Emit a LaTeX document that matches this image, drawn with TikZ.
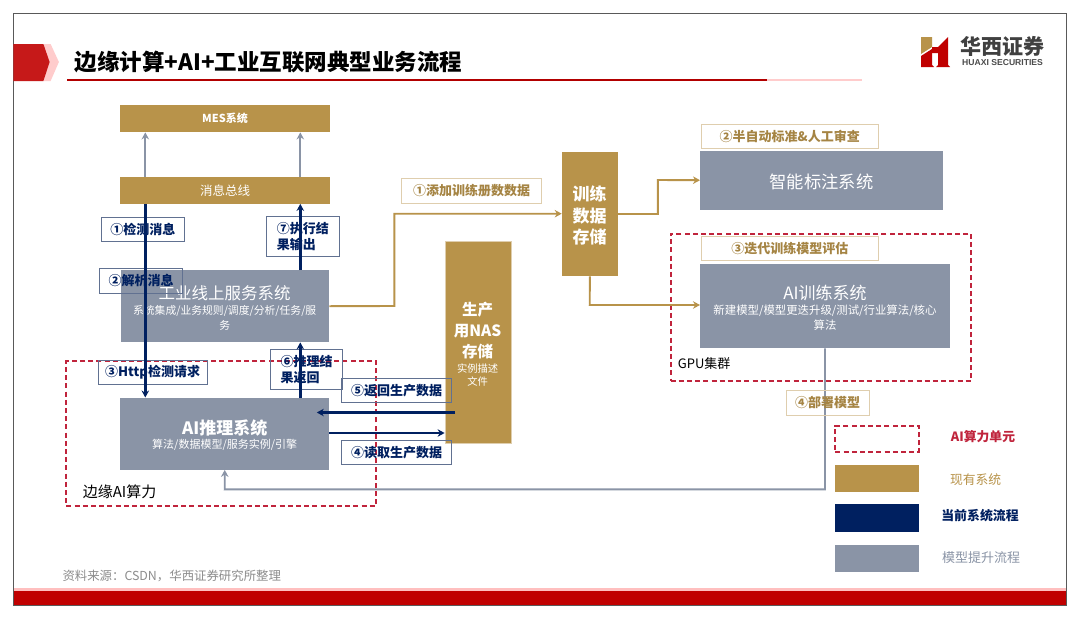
\documentclass[tikz,border=0pt]{standalone}
\usepackage{fontspec}
\setmainfont{Noto Sans CJK SC}
\newfontfamily\latinfont{Liberation Sans}
\usetikzlibrary{arrows.meta,positioning}
\definecolor{gold}{HTML}{B8934A}
\definecolor{slate}{HTML}{8A94A6}
\definecolor{navy}{HTML}{002060}
\definecolor{hxred}{HTML}{C00000}
\definecolor{dashred}{HTML}{C0243C}
\newcommand{\fs}[1]{\fontsize{#1}{#1}\selectfont}
\tikzset{
  x=1pt,y=-1pt,
  sz/.style 2 args={minimum width=#1pt,minimum height=#2pt},
  box/.style={inner sep=0pt,align=center,text=white,anchor=north west},
  goldbox/.style={box,fill=gold},
  slatebox/.style={box,fill=slate},
  navylabel/.style={draw=slate!70!navy,line width=1pt,inner sep=0pt,align=left,text=navy,anchor=north west,font=\fs{13}\bfseries},
  goldlabel/.style={draw=gold!45,line width=1pt,inner sep=0pt,align=center,text=gold!90!black,anchor=north west,font=\fs{13}\bfseries},
  dashbox/.style={draw=dashred,dash pattern=on 5pt off 3.2pt,line width=2pt,inner sep=0pt,anchor=north west},
  navyline/.style={draw=navy,line width=2.4pt,-{Stealth[length=7pt,width=7.5pt]}},
  grayline/.style={draw=slate,line width=1.9pt,-{Stealth[length=7pt,width=7.5pt]}},
  goldline/.style={draw=gold,line width=1.9pt,-{Stealth[length=7pt,width=7.5pt]}},
  plain/.style={inner sep=0pt},
}
\begin{document}
\begin{tikzpicture}
\useasboundingbox (0,0) rectangle (1080,619);
\fill[white] (0,0) rectangle (1080,619);
% slide frame
\fill[red!25] (13.4,588) rectangle (1066.5,591);
\fill[hxred] (13.4,591) rectangle (1066.5,605.5);
\draw[black!65,line width=1pt] (13.4,13.5) rectangle (1066.5,605.5);
% header
\fill[red!20] (43.4,44) -- (50.6,44) -- (58.9,62) -- (50.6,81) -- (43.4,81) -- cycle;
\fill[red!75!black!90!white] (13.4,44) -- (43.4,44) -- (49.6,62) -- (43.4,81) -- (13.4,81) -- cycle;
\node[plain,anchor=west,font=\fs{22.5}\bfseries] (title) at (74.4,61.5) {边缘计算+AI+工业互联网典型业务流程};
\fill[red!70!black] (66.6,78.5) rectangle (767.3,81);
\fill[red!20] (767.3,78.5) rectangle (862,81);
% logo
\fill[hxred] (921,56) -- (932,49) -- (932,65) -- (934,67) -- (921,67) -- cycle;
\fill[hxred] (932,47) -- (938,47) -- (948,37) -- (948,65) -- (950,67) -- (936,67) -- (938,65) -- (938,53) -- (932,53) -- cycle;
\fill[gold] (921,37) -- (932,37) -- (932,47) -- (921,54) -- cycle;
\node[plain,anchor=west,font=\fs{21}\bfseries,text=black!75] (logocn) at (960,46) {华西证券};
\node[plain,anchor=west,font=\latinfont\fs{8.6}\bfseries,text=black!70] (logoen) at (962,62.5) {HUAXI SECURITIES};
% gold bars
\node[goldbox,sz={210.4}{27},font=\fs{11}\bfseries] (mes) at (119.6,105) {MES系统};
\node[goldbox,sz={210.4}{27},font=\fs{12.5}] (bus) at (119.6,176.5) {消息总线};
% services
\node[slatebox,sz={208.4}{72}] (svc) at (120.5,270) {};
\node[plain,text=white,font=\fs{16.5}] (svct) at (224.7,293) {工业线上服务系统};
\node[plain,text=white,font=\fs{10.8},align=center] (svcs) at (224.7,318) {系统集成/业务规则/调度/分析/任务/服\\[3pt]务};
\node[slatebox,sz={208.7}{72}] (inf) at (120.2,397.5) {};
\node[plain,text=white,font=\fs{17}\bfseries] (inft) at (224.7,428) {AI推理系统};
\node[plain,text=white,font=\fs{11}] (infs) at (224.7,445) {算法/数据模型/服务实例/引擎};
% storage
\node[goldbox,sz={56}{124}] (store) at (561.7,152) {};
\node[plain,text=white,font=\fs{17}\bfseries,align=center] (storet) at (589.7,215.5) {训练\\[4.5pt]数据\\[4.5pt]存储};
\node[goldbox,draw=gold!45,line width=1pt,sz={66}{202}] (nas) at (444.6,241) {};
\node[plain,text=white,font=\fs{15.5}\bfseries,align=center] (nast) at (477.6,331) {生产\\[5.5pt]用NAS\\[5.5pt]存储};
\node[plain,text=white,font=\fs{10.3},align=center] (nass) at (477.6,375) {实例描述\\[3pt]文件};
% right boxes
\node[slatebox,sz={243}{59}] (label) at (700,150.5) {};
\node[plain,text=white,font=\fs{17.3}] (labelt) at (821.5,181.5) {智能标注系统};
\node[slatebox,sz={249.8}{84}] (train) at (700,264) {};
\node[plain,text=white,font=\fs{17}] (traint) at (825,293) {AI训练系统};
\node[plain,text=white,font=\fs{11.4},align=center] (trains) at (825,317.5) {新建模型/模型更迭升级/测试/行业算法/核心\\[2.5pt]算法};
% dashed regions
\node[dashbox,sz={309.9}{145}] (edge) at (65.4,360) {};
\node[dashbox,sz={300.9}{147}] (gpu) at (669.5,232.5) {};
% connectors
\draw[grayline] (145.3,176.5) -- (mes.south -| 145.3,0);
\draw[grayline] (300.3,176.5) -- (mes.south -| 300.3,0);
\draw[goldline] (svc.east) -- (394.3,306) -- (394.3,213.7) -- (store.west |- 0,213.7);
\draw[goldline] (store.east |- 0,214) -- (657.8,214) -- (657.8,180) -- (label.west);
\draw[goldline] (store.south) -- (589.7,305) -- (train.west |- 0,305);
\draw[grayline] (train.south -| 825,0) -- (825,489.3) -- (224.7,489.3) -- (inf.south);
% labels
\node[navylabel,sz={82.5}{24.5}] (l1) at (101,216.5) {①检测消息};
\node[navylabel,sz={72.3}{40}] (l7) at (266.2,216) {⑦执行结\\[3.5pt]果输出};
\node[navylabel,sz={109.1}{24}] (l3) at (97.5,360) {③Http检测请求};
\node[navylabel,sz={71.7}{40}] (l6) at (270.3,349) {⑥推理结\\[3.5pt]果返回};
\node[navylabel,sz={109.5}{24}] (l5) at (341.3,378) {⑤返回生产数据};
\node[navylabel,sz={109.5}{24}] (l4) at (341.3,440) {④读取生产数据};
\node[navylabel,sz={82.6}{24.5}] (l2) at (99.2,268) {②解析消息};
\draw[navyline] (bus.south -| 145.3,0) -- (inf.north -| 145.3,0);
\draw[navyline] (svc.north -| 300.3,0) -- (bus.south -| 300.3,0);
\draw[navyline] (inf.north -| 300.3,0) -- (svc.south -| 300.3,0);
\coordinate (nasout) at (455.2,412.5);
\coordinate (infin) at (316.8,412.5);
\draw[navyline] (nasout) -- (infin);
\draw[navyline] (inf.east |- 0,433) -- (nas.west |- 0,433);
% gold labels
\node[goldlabel,sz={140}{25}] (g1) at (401.2,178) {①添加训练册数数据};
\node[goldlabel,sz={176.5}{24.5}] (g2) at (701,123.5) {②半自动标准\&人工审查};
\node[goldlabel,sz={176.5}{24}] (g3) at (701,236) {③迭代训练模型评估};
\node[goldlabel,sz={83.4}{24.5}] (g4) at (785.5,390) {④部署模型};
% plain texts
\node[plain,anchor=west,font=\fs{15}] (edget) at (82.6,492) {边缘AI算力};
\node[plain,anchor=west,font=\fs{13}] (gput) at (677.7,364) {GPU集群};
\node[plain,anchor=west,font=\fs{12.4},text=black!45] (src) at (62.3,576) {资料来源：CSDN，华西证券研究所整理};
% legend
\node[dashbox,sz={83.4}{26.5}] (k1) at (834.4,424.5) {};
\node[goldbox,sz={84}{27}] (k2) at (835,465) {};
\node[box,fill=navy,sz={84}{27.5}] (k3) at (835,504) {};
\node[slatebox,sz={84}{27}] (k4) at (835,545) {};
\node[plain,font=\fs{12.8}\bfseries,text=dashred] (t1) at (983,437) {AI算力单元};
\node[plain,font=\fs{12.8},text=gold] (t2) at (975.6,480) {现有系统};
\node[plain,font=\fs{12.9}\bfseries,text=navy] (t3) at (980,516) {当前系统流程};
\node[plain,font=\fs{13},text=slate] (t4) at (981,558) {模型提升流程};
\end{tikzpicture}
\end{document}
